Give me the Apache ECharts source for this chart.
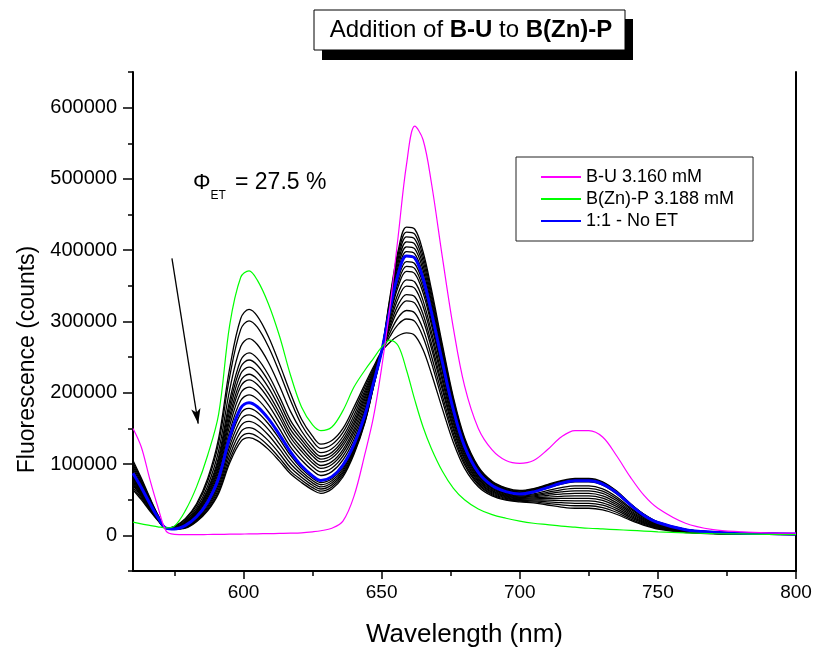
<!DOCTYPE html>
<html>
<head>
<meta charset="utf-8">
<script src="https://cdn.jsdelivr.net/npm/echarts@6/dist/echarts.min.js"></script>
<style>
html, body { margin: 0; padding: 0; background: #fff; }
#chart { width: 814px; height: 650px; }
</style>
</head>
<body>
<div id="chart"></div>
<script>
// Emission wavelengths (nm) shared by every spectrum
const wavelengths = [560,563,566,569,572, 575,579,583,587,591, 595,599,602,605,609, 613,617,621,625,628,
  632,636,640,644,647, 650,653,656,659,662, 665,668,672,676,680, 685,690,695,700,705,
  710,715,720,725,730, 735,740,745,750,760, 770,780,790,800];

// B-U 3.160 mM (counts)
const bu = [150000,124000,80000,40000,6000, 1500,1000,1000,1200,1400, 1600,1800,2000,2200,2400,
  2700,3000,3600,5000,6500, 10000,20000,55000,115000,165000, 235000,320000,420000,520000,574000,
  555000,495000,390000,290000,210000, 150000,120000,105000,101000,105000, 120000,138000,147000,147000,138000,
  112000,82000,56000,38000,17000, 8000,5000,3500,3000];

// B(Zn)-P 3.188 mM (counts)
const bznp = [18500,16000,14000,12000,10500, 13000,35000,68000,112000,170000, 295000,362000,371000,358000,325000,
  280000,225000,180000,155000,147000, 152000,175000,208000,232000,248000, 264000,274000,266000,232000,190000,
  152000,122000,90000,66000,50000, 37000,29000,24000,20000,17000, 15000,13000,11500,10000,9000,
  8000,7000,6000,5000,3500, 2500,2000,1500,1200];

// 1:1 mixture, no energy transfer (counts)
const ratio11 = [87000,67000,45400,25400,10000, 9000,14000,26000,46500,80000, 137600,178600,186000,180400,163700,
  141400,117200,97500,83500,77000, 82400,98700,127700,169300,212800, 258000,316500,366800,392000,389000,
  360400,313400,242800,175600,125200, 88200,69800,61400,58000,61000, 67000,73000,76500,76500,72000,
  60000,43000,28000,18000,8000, 4500,3000,2500,2000];

// Titration spectra, in order of added B-U
const step01 = [64000,50000,34800,20800,10000, 12500,23800,44400,79300,136300, 234600,304300,317000,307500,279000,
  240900,199700,162900,139100,128000, 133000,150000,180000,212500,236000, 258000,271000,280000,284000,280400,
  260300,227100,177400,130000,94400, 68300,55300,49400,47000,45600, 42600,39700,38000,38000,35700,
  29600,21300,14100,8900,4000, 2300,1500,1300,1000];
const step02 = [67000,52200,36200,21400,10000, 12000,22600,42100,75300,129400, 222700,289000,301000,292000,264900,
  228800,189600,155100,132500,122000, 127400,144400,174400,208400,233500, 258000,279000,296000,303500,300200,
  278400,242600,188800,137600,99200, 71000,57000,50600,48000,47000, 44800,42700,41500,41500,39000,
  32400,23200,15400,9800,4400, 2500,1700,1400,1100];
const step03 = [70000,54400,37600,22000,10000, 11000,20700,38600,69000,118700, 204200,265000,276000,267700,242900,
  209800,173900,146400,125700,116000, 121400,138700,168500,204000,231000, 258000,284000,305600,315400,312000,
  289300,251900,195900,142500,102400, 73000,58300,51700,49000,48400, 47000,45800,45000,45000,42300,
  35100,25200,16700,10600,4700, 2700,1800,1500,1200];
const step04 = [72000,55900,38500,22400,10000, 10300,19200,35800,64000,110100, 189400,245800,256000,248300,225300,
  194600,161300,139200,120000,111000, 116400,133800,163200,200000,228600, 258000,289700,316300,329000,325800,
  302000,262800,204000,148000,106000, 75200,59800,52800,50000,49800, 49300,48800,48500,48500,45600,
  37800,27200,17900,11400,5100, 2900,1900,1600,1300];
const step05 = [74000,57400,39400,22800,10000, 9800,18500,34400,61500,105800, 182000,236200,246000,238600,216500,
  187000,155000,134100,115600,107000, 112400,129700,158300,196000,226300, 258000,293600,323600,337800,334700,
  310200,269900,209400,151800,108600, 76900,61100,53900,51000,51200, 51500,51800,52000,52000,48900,
  40600,29100,19200,12200,5500, 3100,2100,1700,1400];
const step06 = [76000,58800,40400,23200,10000, 9400,17700,33000,59000,101500, 174600,226600,236000,228900,207700,
  179400,148700,129000,111300,103000, 108400,125500,154200,192000,224000, 258000,298000,332400,349600,346500,
  321100,279200,216500,156700,111800, 78900,62500,55000,52000,52600, 53700,54800,55500,55500,52200,
  43300,31100,20500,13000,5800, 3300,2200,1800,1400];
const step07 = [78000,60300,41300,23600,10000, 9100,17000,31600,56500,97200, 167200,217000,226000,219200,198900,
  171800,142400,122900,105900,98000, 103400,120400,149200,187600,222000, 258000,301900,339600,358500,355400,
  329300,286300,221900,160500,114400, 80600,63700,56100,53000,54000, 55900,57900,59000,59000,55500,
  46000,33000,21800,13900,6200, 3500,2400,1900,1500];
const step08 = [80000,61800,42200,24000,10000, 9000,16400,30500,54500,93700, 161300,209300,218000,211500,191800,
  165700,137300,118000,101600,94000, 99400,116000,144800,183400,220300, 258000,307000,349200,370300,367200,
  340200,295700,228900,165300,117600, 82600,65100,57200,54000,55400, 58200,60900,62500,62500,58800,
  48800,35000,23100,14700,6600, 3800,2500,2100,1600];
const step09 = [82000,63300,43100,24400,10000, 9000,15600,29100,52000,89400, 153900,199700,208000,201800,183000,
  158100,131000,111900,96300,89000, 94400,111000,139700,178600,218300, 258000,310000,354800,377200,374100,
  346600,301200,233200,168400,119800, 84200,66300,58200,55000,56800, 60400,63900,66000,66000,62000,
  51500,37000,24400,15500,6900, 4000,2600,2200,1700];
const step10 = [84000,64800,44000,24800,10000, 9000,14800,27600,49300,84700, 145800,189100,197000,191100,173400,
  149700,124100,105700,90900,84000, 89400,105800,134500,174500,216200, 258000,313000,360400,384000,381000,
  353000,306800,237500,171500,122000, 85700,67600,59300,56000,58200, 62600,66900,69500,69500,65300,
  54200,38900,25700,16300,7300, 4200,2800,2300,1800];
const step11 = [90000,69200,46800,26000,10000, 9000,13400,24900,44500,76500, 131700,170900,178000,172700,156600,
  135300,112100,93600,80200,74000, 79500,95200,124600,166000,211000, 258000,319000,371600,397900,394900,
  365800,317900,246100,177700,126400, 88800,70000,61400,58000,60700, 66300,71800,75000,75000,70500,
  58500,42000,27800,17600,7900, 4500,3000,2500,2000];
const step12 = [93000,71400,48200,26600,10000, 9000,12700,23700,42300,72700, 125100,162200,169000,163900,148700,
  128400,106500,89600,76900,71000, 76600,92500,122400,164500,210300, 258000,322000,377200,404800,401800,
  372200,323500,250400,180800,128600, 90300,71200,62500,59000,61700, 67300,72800,76000,76000,71400,
  59300,42600,28100,17900,8000, 4600,3000,2500,2000];
const step13 = [96000,73600,49600,27200,10000, 9000,12000,22400,40000,68800, 118400,153600,160000,155200,140800,
  121600,100800,85600,73600,68000, 73700,89900,120300,163000,209600, 258000,325000,382800,411700,408700,
  378600,329000,254700,183900,130800, 91900,72400,63500,60000,62700, 68300,73800,77000,77000,72400,
  60100,43100,28500,18100,8100, 4600,3100,2500,2000];
const step14 = [99000,75900,50900,27800,10000, 9000,11300,21100,37800,64900, 111700,145000,151000,146500,132900,
  114800,95100,81600,70300,65000, 70800,87200,118000,161500,208800, 258000,328000,388400,418600,415600,
  385000,334600,259000,187000,133000, 93400,73600,64600,61000,63700, 69300,74800,78000,78000,73300,
  60800,43700,28900,18300,8200, 4700,3100,2600,2000];
const step15 = [102000,78100,52300,28400,10000, 9000,10700,20000,35800,61500, 105800,137300,143000,138700,125800,
  108700,90100,77700,67000,62000, 67900,84500,115900,160000,208000, 258000,331000,394000,425500,422500,
  391400,340200,263300,190100,135200, 94900,74800,65700,62000,64700, 70300,75800,79000,79000,74300,
  61600,44200,29200,18600,8300, 4700,3200,2600,2100];
const step16 = [105000,80300,53700,29000,10000, 9000,10300,19200,34300,58900, 101400,131500,137000,132900,120600,
  104100,86300,74100,63800,59000, 65000,81900,113700,158500,207300, 258000,334000,399600,432300,429400,
  397800,345700,267600,193200,137400, 96500,76000,66700,63000,65700, 71300,76800,80000,80000,75200,
  62400,44800,29600,18800,8400, 4800,3200,2600,2100];

// Axis ticks and labels
const majorX = [600, 650, 700, 750, 800];
const minorX = [575, 625, 675, 725, 775];
const majorY = [0, 100000, 200000, 300000, 400000, 500000, 600000];
const minorY = [-50000, 50000, 150000, 250000, 350000, 450000, 550000, 650000];

// Downward arrow across the 600 nm band: [wavelength, counts] start and end
const arrowFrom = [574.1, 388500];
const arrowTo = [583.6, 156700];

const FONT = '"Liberation Sans", Arial, Helvetica, sans-serif';
const titration = [step01, step02, step03, step04, step05, step06, step07, step08,
  step09, step10, step11, step12, step13, step14, step15, step16];
const toPairs = ys => wavelengths.map((w, i) => [w, ys[i]]);

const series = [];
titration.forEach((ys, k) => {
  series.push({
    name: 'step ' + (k + 1),
    type: 'line',
    data: toPairs(ys),
    symbol: 'none',
    smooth: 0.35,
    silent: true,
    z: 2,
    itemStyle: { color: '#000' },
    lineStyle: { color: '#000', width: 1.3 }
  });
});
series.push({
  name: '1:1 - No ET', type: 'line', data: toPairs(ratio11), symbol: 'none', smooth: 0.35, silent: true, z: 3,
  itemStyle: { color: '#0000ff' }, lineStyle: { color: '#0000ff', width: 3 }
});
series.push({
  name: 'B(Zn)-P 3.188 mM', type: 'line', data: toPairs(bznp), symbol: 'none', smooth: 0.35, silent: true, z: 4,
  itemStyle: { color: '#00ff00' }, lineStyle: { color: '#00ff00', width: 1.2 }
});
series.push({
  name: 'B-U 3.160 mM', type: 'line', data: toPairs(bu), symbol: 'none', smooth: 0.35, silent: true, z: 5,
  itemStyle: { color: '#ff00ff' }, lineStyle: { color: '#ff00ff', width: 1.2 }
});
series.push({
  name: 'arrow', type: 'line', data: [], silent: true, z: 6,
  markLine: {
    silent: true,
    symbol: ['none', 'arrow'],
    symbolSize: [7, 15],
    label: { show: false },
    lineStyle: { color: '#000', width: 1.3, type: 'solid' },
    emphasis: { disabled: true },
    data: [[{ coord: arrowFrom }, { coord: arrowTo }]]
  }
});

const axisLineStyle = { color: '#000', width: 2 };
const tickStyle = { color: '#000', width: 1.5 };

const option = {
  animation: false,
  backgroundColor: '#fff',
  grid: { left: 133, right: 18, top: 72, bottom: 79, outerBoundsMode: 'none' },
  legend: {
    orient: 'vertical',
    left: 516,
    top: 157,
    data: ['B-U 3.160 mM', 'B(Zn)-P 3.188 mM', '1:1 - No ET'],
    selectedMode: false,
    backgroundColor: '#fff',
    borderColor: '#222',
    borderWidth: 1,
    borderRadius: 0,
    padding: [11, 19, 11, 24],
    itemWidth: 40,
    itemHeight: 14,
    itemGap: 4,
    // plain line samples, no marker dot
    itemStyle: { opacity: 0 },
    textStyle: { fontFamily: FONT, fontSize: 18, color: '#000', lineHeight: 18 }
  },
  xAxis: [
    {
      type: 'value', min: 560, max: 800, position: 'bottom',
      axisLine: { show: true, onZero: false, lineStyle: axisLineStyle },
      axisTick: { show: true, customValues: majorX, length: 8, lineStyle: tickStyle },
      axisLabel: { customValues: majorX, margin: 12, fontSize: 19, color: '#000', fontFamily: FONT },
      splitLine: { show: false },
      name: 'Wavelength (nm)', nameLocation: 'middle', nameGap: 51,
      nameTextStyle: { fontSize: 26, fontFamily: FONT, color: '#000' }
    },
    {
      type: 'value', min: 560, max: 800, position: 'bottom',
      axisLine: { show: false, onZero: false },
      axisTick: { show: true, customValues: minorX, length: 5, lineStyle: tickStyle },
      axisLabel: { show: false },
      splitLine: { show: false }
    }
  ],
  yAxis: [
    {
      type: 'value', min: -50000, max: 650000, position: 'left',
      axisLine: { show: true, onZero: false, lineStyle: axisLineStyle },
      axisTick: { show: true, customValues: majorY, length: 10, lineStyle: tickStyle },
      axisLabel: { customValues: majorY, margin: 16, fontSize: 20, color: '#000', fontFamily: FONT,
        formatter: v => String(v) },
      splitLine: { show: false },
      name: 'Fluorescence (counts)', nameLocation: 'middle', nameGap: 92,
      nameTextStyle: { fontSize: 23, fontFamily: FONT, color: '#000', padding: [0, 76, 0, 0] }
    },
    {
      type: 'value', min: -50000, max: 650000, position: 'left',
      axisLine: { show: false, onZero: false },
      axisTick: { show: true, customValues: minorY, length: 5, lineStyle: tickStyle },
      axisLabel: { show: false },
      splitLine: { show: false }
    },
    {
      type: 'value', min: -50000, max: 650000, position: 'right',
      axisLine: { show: true, onZero: false, lineStyle: axisLineStyle },
      axisTick: { show: false },
      axisLabel: { show: false },
      splitLine: { show: false }
    }
  ],
  graphic: [
    { type: 'rect', shape: { x: 322, y: 19, width: 311, height: 41 }, style: { fill: '#000' }, z: 10, silent: true },
    { type: 'rect', shape: { x: 314, y: 10, width: 311, height: 40 }, style: { fill: '#fff', stroke: '#000', lineWidth: 1 }, z: 11, silent: true },
    {
      type: 'text', x: 471, y: 30, z: 12, silent: true,
      style: {
        text: '{n|Addition of }{b|B-U}{n| to }{b|B(Zn)-P}',
        align: 'center', verticalAlign: 'middle',
        rich: {
          n: { fontSize: 24, fontFamily: FONT, fill: '#000' },
          b: { fontSize: 24, fontFamily: FONT, fontWeight: 'bold', fill: '#000' }
        }
      }
    },
    { type: 'text', x: 193, y: 183, z: 12, silent: true,
      style: { text: 'Φ', fontSize: 22, fontFamily: FONT, fill: '#000', verticalAlign: 'middle' } },
    { type: 'text', x: 210.5, y: 196, z: 12, silent: true,
      style: { text: 'ET', fontSize: 12, fontFamily: FONT, fill: '#000', verticalAlign: 'middle' } },
    { type: 'text', x: 235, y: 182.5, z: 12, silent: true,
      style: { text: '= 27.5 %', fontSize: 23, fontFamily: FONT, fill: '#000', verticalAlign: 'middle' } }
  ],
  series: series
};

const chart = echarts.init(document.getElementById('chart'), null, { renderer: 'canvas' });
chart.setOption(option);
</script>
</body>
</html>
